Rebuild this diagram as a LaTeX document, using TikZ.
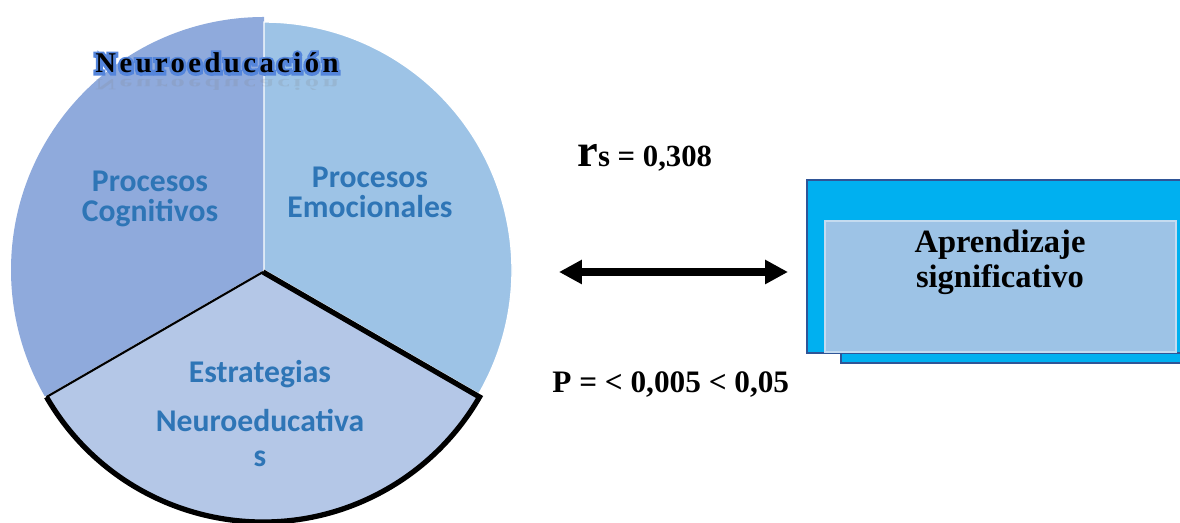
\documentclass[tikz,border=0pt]{standalone}
\usepackage{fontspec}
\setmainfont{Liberation Serif}
\newfontfamily\calibri{Carlito}
\usetikzlibrary{arrows.meta}

\definecolor{cognit}{RGB}{143,170,220}
\definecolor{emocion}{RGB}{157,195,230}
\definecolor{estrat}{RGB}{180,199,231}
\definecolor{rotulo}{RGB}{46,117,182}
\definecolor{celeste}{RGB}{0,176,240}
\definecolor{marco}{RGB}{47,85,151}
\definecolor{interior}{RGB}{157,195,230}

% blue outline behind black letters (stroke-only text render mode)
\newcommand{\conbrillo}[1]{{\special{pdf:code q 1 Tr 3 w 0.33 0.52 0.86 RG}\rlap{#1}\special{pdf:code Q}}#1}

\tikzset{
  etiqueta/.style={text=rotulo, align=center, anchor=base,
    font=\calibri\bfseries\fontsize{18}{17.5}\selectfont},
  titulo/.style={anchor=base, inner sep=0pt,
    font=\bfseries\fontsize{16.3}{16.3}\selectfont\addfontfeatures{LetterSpace=12}},
  dato/.style={anchor=base west, inner sep=0pt, font=\bfseries},
}

\begin{document}
\begin{tikzpicture}[x=0.02cm,y=0.02cm]
\clip (0,0) rectangle (1180,523);

% pie
\fill[cognit] (264,253) -- ++(90:253) arc (90:210:253) -- cycle;
\filldraw[fill=emocion, draw=white, line width=0.8pt] (264,253) -- ++(-30:248) arc (-30:90:248) -- cycle;
\fill[estrat] (263,251) -- ++(210:250) arc (210:330:250) -- cycle;
\draw[line width=1.2pt] (263,251) -- ++(210:250);
\draw[line width=3pt, line join=miter] (263,251) ++(210:250) arc (210:330:250) -- (263,251);

\node (cog) [etiqueta] at (150,301) {Procesos\\Cognitivos};
\node (emo) [etiqueta] at (370,305) {Procesos\\Emocionales};
\node (est) [etiqueta] at (260,56) {Estrategias\\[10.5pt]Neuroeducativa\\[2.5pt]s};

% title and its faded reflection
\node[titulo, text=gray, opacity=0.18, yscale=-0.55] at (217,443) {Neuroeducación};
\node (tit) [titulo] at (217,450) {\conbrillo{Neuroeducación}};

% statistics
\node (rs) [dato] at (577,356) {{\fontsize{26.5}{26.5}\selectfont r}{\fontsize{17.5}{17.5}\selectfont s = 0,308}};
\node (p) [dato, font=\bfseries\fontsize{17.8}{17.8}\selectfont] at (552,130) {P = < 0,005 < 0,05};

\coordinate (izq) at (559,251);
\coordinate (der) at (788,251);
\draw[line width=4pt, {Triangle[length=13pt,width=13pt]}-{Triangle[length=13pt,width=13pt]}] (izq) -- (der);

% box
\filldraw[fill=celeste, draw=marco, line width=1.3pt] (841,160) rectangle (1195,333);
\filldraw[fill=celeste, draw=marco, line width=1.3pt] (807,170) rectangle (1195,343);
\filldraw[fill=interior, draw=emocion!60!white, line width=0.6pt] (825,171) rectangle (1176,302);
\node (apr) [align=center, anchor=base, font=\bfseries\fontsize{18.5}{20.4}\selectfont] at (1000,235) {Aprendizaje\\significativo};
\end{tikzpicture}
\end{document}
